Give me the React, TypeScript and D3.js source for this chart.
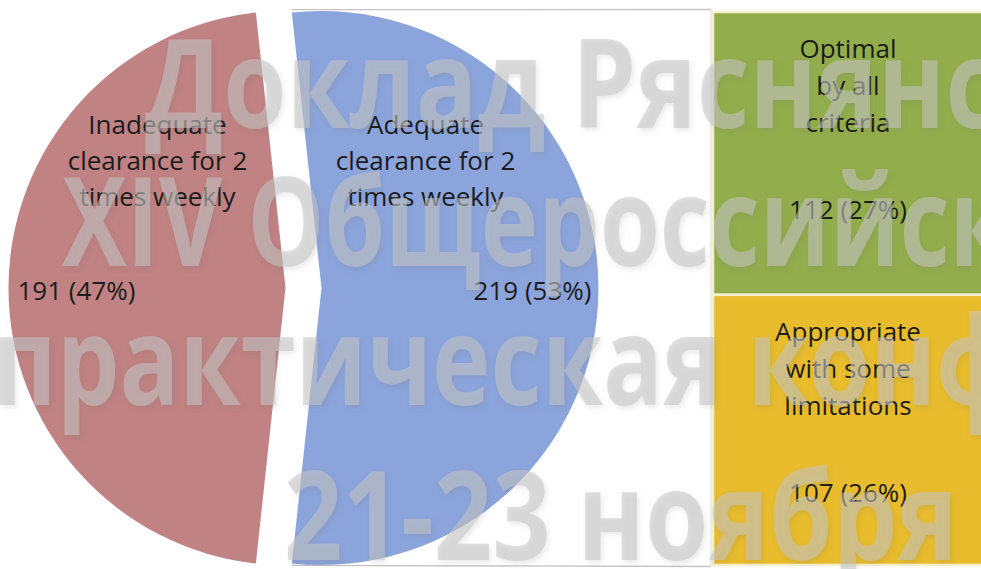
import React, { useEffect, useRef } from "react";
import * as d3 from "d3";

// ---- data ----
const pieCategories = ["Inadequate clearance for 2 times weekly", "Adequate clearance for 2 times weekly"];
const pieLabelLines = [
  ["Inadequate", "clearance for 2", "times weekly"],
  ["Adequate", "clearance for 2", "times weekly"],
];
const pieValues = [191, 219];
const piePercents = [47, 53];

const barCategories = ["Optimal by all criteria", "Appropriate with some limitations"];
const barLabelLines = [
  ["Optimal", "by all", "criteria"],
  ["Appropriate", "with some", "limitations"],
];
const barValues = [112, 107];
const barPercents = [27, 26];

const watermarkLines = [
  "Доклад Ряснянской",
  "XIV Общероссийской научно-",
  "практическая конференция",
  "21-23 ноября",
];

// ---- styles / layout ----
const W = 981;
const H = 569;
const pieColors = ["#C08282", "#8BA4DB"];
const barColors = ["#93AD4C", "#E8BC2C"];
const textColor = "#1c1c1c";
const labelFont = "'Open Sans', 'DejaVu Sans', sans-serif";
const wmFont = "'Open Sans', 'DejaVu Sans', sans-serif";

export default function App() {
  const svgRef = useRef<SVGSVGElement>(null);

  useEffect(() => {
    const svg = d3.select(svgRef.current);
    svg.selectAll("*").remove();

    const defs = svg.append("defs");
    const f = defs.append("filter").attr("id", "wmShadow").attr("x", "-5%").attr("y", "-5%").attr("width", "110%").attr("height", "120%");
    f.append("feDropShadow").attr("dx", 2).attr("dy", 3).attr("stdDeviation", 2.5).attr("flood-color", "#707070").attr("flood-opacity", 0.25);

    svg.append("rect").attr("width", W).attr("height", H).attr("fill", "#ffffff");

    // ---------- pie ----------
    const cx = 303.5, cy = 288, R = 277, explode = 18;
    const total = d3.sum(pieValues);
    const startA = 1.5 * Math.PI - (pieValues[0] / total) * Math.PI;
    const pie = d3.pie<number>().sort(null).value((d) => d).startAngle(startA).endAngle(startA + 2 * Math.PI);
    const arcs = pie(pieValues);
    const arcGen = d3.arc<d3.PieArcDatum<number>>().innerRadius(0).outerRadius(R);

    const slices = arcs.map((a, i) => {
      const mid = (a.startAngle + a.endAngle) / 2;
      return { a, i, ox: cx + Math.sin(mid) * explode, oy: cy - Math.cos(mid) * explode };
    });

    // bar scale
    const barX0 = 713, barX1 = 990;
    const barTotal = d3.sum(barValues);
    const yScale = d3.scaleLinear().domain([0, barTotal]).range([12, 565]);
    const cum = d3.cumsum(barValues);
    const segs = barValues.map((v, i) => ({ v, i, y0: yScale(cum[i] - v), y1: yScale(cum[i]) }));

    // connector lines from the exploded slice to the bar
    const bl = slices[1];
    const topPt = [bl.ox + Math.sin(bl.a.startAngle) * R, bl.oy - Math.cos(bl.a.startAngle) * R];
    const botPt = [bl.ox + Math.sin(bl.a.endAngle) * R, bl.oy - Math.cos(bl.a.endAngle) * R];
    const lines = svg.append("g").attr("stroke", "#c4c4c4").attr("stroke-width", 1.3).attr("fill", "none");
    lines.append("line").attr("x1", topPt[0]).attr("y1", topPt[1] - 3).attr("x2", barX0 - 2).attr("y2", yScale(0) - 2.5);
    lines.append("line").attr("x1", botPt[0]).attr("y1", botPt[1] + 2).attr("x2", barX0 - 2).attr("y2", yScale(barTotal) + 1.5);
    lines.append("line").attr("x1", barX0 - 2).attr("y1", yScale(0) - 2.5).attr("x2", barX0 - 2).attr("y2", yScale(barTotal) + 1.5).attr("stroke", "#e2e2e2");

    const pg = svg.append("g");
    pg.selectAll("path")
      .data(slices)
      .join("path")
      .attr("d", (d) => arcGen(d.a) as string)
      .attr("transform", (d) => `translate(${d.ox},${d.oy})`)
      .attr("fill", (d) => pieColors[d.i]);

    // pie labels
    const catDx = [-128, 104];
    const lineY = [134, 170, 206];
    slices.forEach((s) => {
      const g = svg.append("g").attr("font-family", labelFont).attr("font-size", 26).attr("fill", textColor);
      pieLabelLines[s.i].forEach((ln, k) => {
        g.append("text").attr("x", s.ox + catDx[s.i]).attr("y", lineY[k]).attr("text-anchor", "middle").text(ln);
      });
      const valText = `${pieValues[s.i]} (${piePercents[s.i]}%)`;
      if (s.i === 0) {
        g.append("text").attr("x", s.ox - R + 9).attr("y", cy + 12).attr("text-anchor", "start").text(valText);
      } else {
        g.append("text").attr("x", s.ox + R - 7).attr("y", cy + 12).attr("text-anchor", "end").text(valText);
      }
    });

    // ---------- bar ----------
    const bg = svg.append("g");
    bg.selectAll("rect")
      .data(segs)
      .join("rect")
      .attr("x", barX0)
      .attr("y", (d) => d.y0)
      .attr("width", barX1 - barX0)
      .attr("height", (d) => d.y1 - d.y0)
      .attr("fill", (d) => barColors[d.i])
      .attr("stroke", "#f6f0d2")
      .attr("stroke-width", 2.5);

    const bcx = 848;
    const bLineOff = [46, 83, 120];
    segs.forEach((s) => {
      const g = svg.append("g").attr("font-family", labelFont).attr("font-size", 26).attr("fill", textColor).attr("text-anchor", "middle");
      barLabelLines[s.i].forEach((ln, k) => {
        g.append("text").attr("x", bcx).attr("y", s.y0 + bLineOff[k]).text(ln);
      });
      g.append("text").attr("x", bcx).attr("y", s.y0 + 207).text(`${barValues[s.i]} (${barPercents[s.i]}%)`);
    });

    // ---------- watermark ----------
    const wmX = [145, 62, -8, 284];
    const wmY = [128, 266, 405, 560];
    const wmFit = [1, 0.95, 0.97, 1];
    const wg = svg.append("g")
      .attr("font-family", wmFont)
      .attr("font-weight", 700)
      .attr("font-size", 123)
      .attr("fill", "#c4c4c4")
      .attr("fill-opacity", 0.56)
      .attr("filter", "url(#wmShadow)");
    const wmTexts = watermarkLines.map((t, i) =>
      wg.append("text").attr("x", 0).attr("y", 0).attr("transform", `translate(${wmX[i]},${wmY[i]})`).text(t)
    );
    const node = wmTexts[3].node() as SVGTextElement;
    const len = node.getComputedTextLength();
    const sx = len > 0 ? 674 / len : 1;
    wmTexts.forEach((t, i) => t.attr("transform", `translate(${wmX[i]},${wmY[i]}) scale(${sx * wmFit[i]},1)`));
  }, []);

  return (
    <svg
      ref={svgRef}
      width={W}
      height={H}
      style={{ position: "absolute", left: 0, top: 0, display: "block" }}
    />
  );
}
